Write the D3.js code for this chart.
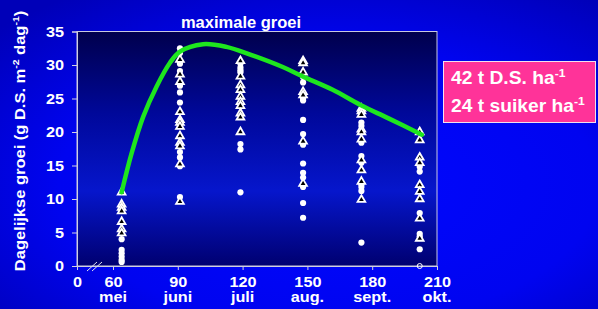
<!DOCTYPE html>
<html>
<head>
<meta charset="utf-8">
<script src="https://cdn.jsdelivr.net/npm/d3@7"></script>
<style>
  html, body { margin: 0; padding: 0; background: #0000d0; }
  svg { display: block; font-family: "Liberation Sans", Arial, sans-serif; font-weight: bold; }
</style>
</head>
<body>
<div id="chart"></div>
<script>
// meetdagen (dagen na 1 maart) en waarden per kolom
const days = [64, 91, 119, 148, 175, 202];
const circleVals = [
  [4.0, 2.4, 1.9, 1.4, 0.9, 0.6],
  [32.5, 31.8, 30.2, 29.1, 26.9, 25.9, 24.4, 17.0, 16.2, 14.9, 10.3],
  [30.2, 29.6, 29.2, 28.9, 18.2, 17.4, 11.0],
  [28.2, 27.4, 25.0, 24.7, 21.8, 19.7, 18.1, 15.3, 13.9, 13.2, 11.8, 9.4, 7.2],
  [21.4, 20.9, 18.4, 16.4, 15.4, 12.2, 11.8, 11.2, 3.5],
  [14.8, 14.1, 7.9, 4.8, 4.4, 2.5]
];
const triVals = [
  [11.0, 9.2, 8.7, 8.2, 6.6, 5.5, 4.9],
  [30.8, 28.6, 27.5, 23.0, 21.8, 21.4, 20.8, 19.4, 18.4, 17.9, 15.2, 9.6],
  [30.6, 28.3, 27.0, 26.3, 25.3, 24.5, 23.9, 22.8, 22.2, 20.0],
  [30.6, 30.3, 28.9, 26.0, 25.5, 18.6, 12.3],
  [23.5, 23.1, 22.6, 20.4, 20.0, 18.9, 15.8, 14.3, 12.6, 9.9],
  [20.0, 18.8, 16.2, 15.4, 12.1, 11.1, 10.0, 7.1, 4.1]
];
const openVals = [[], [], [], [], [], [0.0]];

// maximale groei curve
const curveDays = [64, 68.6, 74, 80.2, 86.3, 91, 101.7, 112.5, 123.2, 138.6, 147.8, 161.7, 174.8, 187.8, 203];
const curveVals = [11, 16.8, 22.3, 26.8, 30.3, 32, 33.1, 32.7, 31.6, 29.7, 28.3, 26.3, 24, 22, 19.6];

const xTicks = [0, 60, 90, 120, 150, 180, 210];
const monthLabels = ["mei", "juni", "juli", "aug.", "sept.", "okt."];
const yTicks = [0, 5, 10, 15, 20, 25, 30, 35];
const legendLines = [["42 t D.S. ha", "-1"], ["24 t suiker ha", "-1"]];

const W = 598, H = 309;
const plot = { left: 77, right: 437, top: 31.5, bottom: 266 };
const stretch = 1.12; // tekst in het origineel is iets breed getrokken

const svg = d3.select("#chart").append("svg").attr("width", W).attr("height", H);
const defs = svg.append("defs");

const bg = defs.append("radialGradient").attr("id", "bg")
  .attr("cx", "55%").attr("cy", "60%").attr("r", "75%");
bg.append("stop").attr("offset", "0%").attr("stop-color", "#0008ff");
bg.append("stop").attr("offset", "60%").attr("stop-color", "#0004f0");
bg.append("stop").attr("offset", "100%").attr("stop-color", "#0000b8");

const pg = defs.append("linearGradient").attr("id", "pg")
  .attr("x1", 0).attr("y1", 0).attr("x2", 0).attr("y2", 1);
pg.append("stop").attr("offset", "0%").attr("stop-color", "#00004c");
pg.append("stop").attr("offset", "35%").attr("stop-color", "#00089a");
pg.append("stop").attr("offset", "68%").attr("stop-color", "#0616cc");
pg.append("stop").attr("offset", "100%").attr("stop-color", "#000070");

svg.append("rect").attr("width", W).attr("height", H).attr("fill", "url(#bg)");

// schalen (gebroken x-as tussen 0 en 60)
const x = d3.scaleLinear().domain([0, 60, 210]).range([plot.left, 113, plot.right]);
const y = d3.scaleLinear().domain([0, 35]).range([plot.bottom, plot.top]);

// plotvlak
svg.append("rect")
  .attr("x", plot.left).attr("y", plot.top)
  .attr("width", plot.right - plot.left).attr("height", plot.bottom - plot.top)
  .attr("fill", "url(#pg)")
  .attr("stroke", "#c8c8e0").attr("stroke-width", 1);

// titel
svg.append("text").attr("x", 241).attr("y", 28)
  .attr("text-anchor", "middle").attr("fill", "#fff").attr("font-size", 16.5)
  .text("maximale groei");

// y-as
const yAxis = svg.append("g").attr("transform", `translate(${plot.left},0)`)
  .call(d3.axisLeft(y).tickValues(yTicks).tickSize(5).tickPadding(6.5));
yAxis.selectAll("text").attr("fill", "#fff").attr("font-size", 14.5).attr("font-family", null)
  .attr("transform", `scale(${stretch},1)`);
yAxis.selectAll("line, path").attr("stroke", "#d0d0e0");

// x-as
const xAxis = svg.append("g").attr("transform", `translate(0,${plot.bottom})`)
  .call(d3.axisBottom(x).tickValues(xTicks).tickSize(4).tickPadding(7).tickSizeOuter(0));
xAxis.selectAll("text").attr("fill", "#fff").attr("font-size", 14.5).attr("font-family", null)
  .attr("transform", `scale(${stretch},1)`);
xAxis.selectAll("line, path").attr("stroke", "#d0d0e0");

// maanden
svg.append("g").selectAll("text")
  .data(monthLabels)
  .enter().append("text")
  .attr("transform", (d, i) => `translate(${x(xTicks[i + 1])},302) scale(${stretch},1)`)
  .attr("text-anchor", "middle").attr("fill", "#fff").attr("font-size", 14.5)
  .text(d => d);

// breekteken op de as
const bx = x(30);
[-3, 2].forEach(o => {
  svg.append("line")
    .attr("x1", bx + o - 5).attr("y1", plot.bottom + 5)
    .attr("x2", bx + o + 5).attr("y2", plot.bottom - 4)
    .attr("stroke", "#e0e0f0").attr("stroke-width", 1);
});

// y-as titel
const yt = svg.append("text")
  .attr("transform", `translate(25,141) rotate(-90) scale(1.1,1)`)
  .attr("text-anchor", "middle").attr("fill", "#fff").attr("font-size", 15);
yt.append("tspan").text("Dagelijkse groei (g D.S. m");
yt.append("tspan").attr("font-size", 9.5).attr("dy", -6).text("-2");
yt.append("tspan").attr("dy", 6).text(" dag");
yt.append("tspan").attr("font-size", 9.5).attr("dy", -6).text("-1");
yt.append("tspan").attr("dy", 6).text(")");

// punten
const pts = svg.append("g");
days.forEach((d, i) => {
  pts.selectAll(null).data(circleVals[i]).enter().append("circle")
    .attr("cx", x(d)).attr("cy", v => y(v)).attr("r", 3.1).attr("fill", "#fff");
  pts.selectAll(null).data(openVals[i]).enter().append("circle")
    .attr("cx", x(d)).attr("cy", v => y(v)).attr("r", 2.5)
    .attr("fill", "none").attr("stroke", "#fff").attr("stroke-width", 1);
});
const tri = d3.symbol().type(d3.symbolTriangle).size(26);
days.forEach((d, i) => {
  pts.selectAll(null).data(triVals[i]).enter().append("path")
    .attr("d", tri)
    .attr("transform", v => `translate(${x(d)},${y(v)})`)
    .attr("fill", "#000").attr("stroke", "#fff").attr("stroke-width", 1.8);
});

// curve
const line = d3.line().x(d => x(d[0])).y(d => y(d[1])).curve(d3.curveCatmullRom);
svg.append("path")
  .datum(curveDays.map((d, i) => [d, curveVals[i]]))
  .attr("d", line)
  .attr("fill", "none").attr("stroke", "#1ee61e").attr("stroke-width", 4.5)
  .attr("stroke-linecap", "round");

// legenda
const lg = svg.append("g");
lg.append("rect").attr("x", 443.5).attr("y", 61.5).attr("width", 152).attr("height", 61)
  .attr("fill", "#ff3399").attr("stroke", "#f0e0f0").attr("stroke-width", 1);
legendLines.forEach((l, i) => {
  const t = lg.append("text")
    .attr("transform", `translate(451,${83.5 + i * 28.5}) scale(1.1,1)`)
    .attr("fill", "#fff").attr("font-size", 17.5);
  t.append("tspan").text(l[0]);
  t.append("tspan").attr("font-size", 11).attr("dy", -7).text(l[1]);
});
</script>
</body>
</html>
